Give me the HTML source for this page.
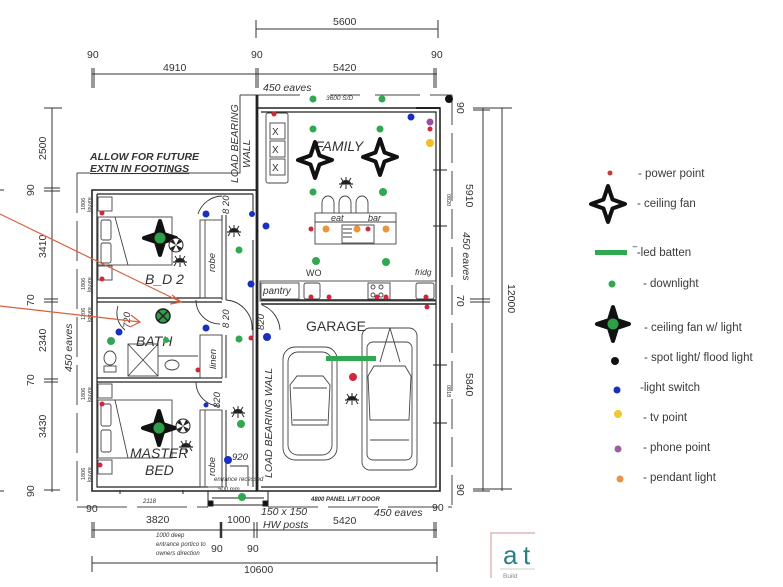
<!DOCTYPE html>
<html><head><meta charset="utf-8"><style>
html,body{margin:0;padding:0;background:#fff;}
svg{display:block;}
text{font-family:"Liberation Sans",sans-serif;fill:#333;}
.it{font-style:italic;}
.lg{font-size:11.5px;fill:#3a3a3a;}
</style></head><body>
<svg width="783" height="587" viewBox="0 0 783 587" xmlns="http://www.w3.org/2000/svg">
<defs>
<g id="star"><polygon points="0,-18 4.5,-4.5 17,0 4.5,4.5 0,18 -4.5,4.5 -17,0 -4.5,-4.5" fill="#fff" stroke="#111" stroke-width="4" stroke-linejoin="round"/></g>
<g id="starg"><polygon points="0,-17 4,-4 16,0 4,4 0,17 -4,4 -16,0 -4,-4" fill="#111" stroke="#111" stroke-width="4" stroke-linejoin="round"/><circle r="5.5" fill="#2e9e48"/></g>
<g id="spot"><path d="M-5,0 A5,4 0 0 1 5,0 Z" fill="#222"/><line x1="-7" y1="0" x2="7" y2="0" stroke="#222" stroke-width="1.2"/><line x1="0" y1="-7" x2="0" y2="-4" stroke="#222"/><line x1="-5" y1="-6" x2="-3" y2="-3" stroke="#222"/><line x1="5" y1="-6" x2="3" y2="-3" stroke="#222"/><line x1="0" y1="1" x2="0" y2="5" stroke="#222"/><line x1="-4" y1="1" x2="-6" y2="4" stroke="#222"/><line x1="4" y1="1" x2="6" y2="4" stroke="#222"/></g>
<g id="fan"><circle r="7" fill="#fff" stroke="#222" stroke-width="1"/><path d="M0,0 L-6,-3 L-3,-6 Z M0,0 L6,3 L3,6 Z M0,0 L3,-6 L6,-3 Z M0,0 L-3,6 L-6,3 Z" fill="#222"/></g>
</defs>

<!-- ===== top dimensions ===== -->
<g stroke="#333" stroke-width="1" fill="none">
<line x1="256" y1="29" x2="438" y2="29"/>
<line x1="256" y1="20" x2="256" y2="38"/><line x1="438" y1="20" x2="438" y2="38"/>
<line x1="92" y1="74" x2="437" y2="74"/>
<line x1="92" y1="68" x2="92" y2="88"/><line x1="94" y1="68" x2="94" y2="88"/>
<line x1="256" y1="68" x2="256" y2="88"/><line x1="258" y1="68" x2="258" y2="88"/>
<line x1="434" y1="68" x2="434" y2="88"/><line x1="436" y1="68" x2="436" y2="88"/>
</g>
<text x="333" y="25" font-size="10.5">5600</text>
<text x="87" y="58" font-size="10.5">90</text>
<text x="251" y="58" font-size="10.5">90</text>
<text x="431" y="58" font-size="10.5">90</text>
<text x="163" y="71" font-size="10.5">4910</text>
<text x="333" y="71" font-size="10.5">5420</text>
<text x="263" y="91" font-size="10.5" class="it">450 eaves</text>

<!-- eaves lines -->
<g stroke="#444" stroke-width="1" fill="none">
<path d="M240,95 L258,95"/>
<path d="M258,95 L300,95 M330,95 L360,95 M375,95 L420,95 M430,95 L452,95" />
<path d="M240,95 L240,173 L205,173"/>
<path d="M77,173 L90,173"/>
<path d="M77,173 L77,505" stroke-dasharray="40 8"/>
<path d="M452,95 L452,507" stroke-dasharray="30 8"/>
<path d="M77,507 L208,507" stroke-dasharray="50 10"/>
<path d="M268,507 L452,507" stroke-dasharray="50 10"/>
</g>
<text x="326" y="100" font-size="6.5" class="it">3600 S/D</text>

<text x="90" y="160" font-size="10.5" font-weight="bold" class="it">ALLOW FOR FUTURE</text>
<text x="90" y="172" font-size="10.5" font-weight="bold" class="it" text-decoration="underline">EXTN IN FOOTINGS</text>
<line x1="168" y1="173" x2="205" y2="173" stroke="#444"/>
<text transform="translate(238,183) rotate(-90)" font-size="10.5" class="it">LOAD BEARING</text>
<text transform="translate(250,168) rotate(-90)" font-size="10.5" class="it">WALL</text>

<!-- ===== left dimensions ===== -->
<g stroke="#333" stroke-width="1" fill="none">
<line x1="52" y1="108" x2="52" y2="492"/>
<line x1="44" y1="108" x2="62" y2="108"/>
<line x1="44" y1="188" x2="60" y2="188"/><line x1="44" y1="191" x2="60" y2="191"/>
<line x1="44" y1="299" x2="58" y2="299"/><line x1="44" y1="302" x2="58" y2="302"/>
<line x1="44" y1="379" x2="58" y2="379"/><line x1="44" y1="382" x2="58" y2="382"/>
<line x1="44" y1="490" x2="60" y2="490"/>
<line x1="0" y1="190" x2="4" y2="190"/>
<line x1="0" y1="491" x2="4" y2="491"/>
</g>
<text transform="translate(46,160) rotate(-90)" font-size="10.5">2500</text>
<text transform="translate(34,196) rotate(-90)" font-size="10.5">90</text>
<text transform="translate(46,258) rotate(-90)" font-size="10.5">3410</text>
<text transform="translate(34,306) rotate(-90)" font-size="10.5">70</text>
<text transform="translate(46,352) rotate(-90)" font-size="10.5">2340</text>
<text transform="translate(34,386) rotate(-90)" font-size="10.5">70</text>
<text transform="translate(46,438) rotate(-90)" font-size="10.5">3430</text>
<text transform="translate(34,497) rotate(-90)" font-size="10.5">90</text>
<text transform="translate(72,372) rotate(-90)" font-size="10.5" class="it">450 eaves</text>
<g font-size="5.5">
<text transform="translate(85,210) rotate(-90)">1806</text>
<text transform="translate(91,212) rotate(-90)">louvre</text>
<text transform="translate(85,290) rotate(-90)">1806</text>
<text transform="translate(91,292) rotate(-90)">louvre</text>
<text transform="translate(85,320) rotate(-90)">1206</text>
<text transform="translate(91,322) rotate(-90)">louvre</text>
<text transform="translate(85,400) rotate(-90)">1806</text>
<text transform="translate(91,402) rotate(-90)">louvre</text>
<text transform="translate(85,480) rotate(-90)">1806</text>
<text transform="translate(91,482) rotate(-90)">louvre</text>
</g>

<!-- ===== right dimensions ===== -->
<g stroke="#333" stroke-width="1" fill="none">
<line x1="483" y1="108" x2="483" y2="491"/>
<line x1="502" y1="108" x2="502" y2="491"/>
<line x1="473" y1="108" x2="512" y2="108"/><line x1="473" y1="110" x2="490" y2="110"/>
<line x1="470" y1="299" x2="490" y2="299"/><line x1="470" y1="302" x2="490" y2="302"/>
<line x1="473" y1="489" x2="512" y2="489"/><line x1="473" y1="491" x2="490" y2="491"/>
</g>
<text transform="translate(457,102) rotate(90)" font-size="10.5">90</text>
<text transform="translate(466,184) rotate(90)" font-size="10.5">5910</text>
<text transform="translate(463,232) rotate(90)" font-size="10.5" class="it">450 eaves</text>
<text transform="translate(457,295) rotate(90)" font-size="10.5">70</text>
<text transform="translate(466,373) rotate(90)" font-size="10.5">5840</text>
<text transform="translate(457,484) rotate(90)" font-size="10.5">90</text>
<text transform="translate(508,284) rotate(90)" font-size="10.5">12000</text>
<text transform="translate(447,194) rotate(90)" font-size="5.5">0820</text>
<text transform="translate(447,385) rotate(90)" font-size="5.5">0818</text>

<!-- ===== bottom dimensions ===== -->
<g stroke="#333" stroke-width="1" fill="none">
<line x1="92" y1="530" x2="437" y2="530"/>
<line x1="92" y1="522" x2="92" y2="538"/><line x1="94" y1="522" x2="94" y2="538"/>
<line x1="221" y1="522" x2="221" y2="538" stroke-width="2.5"/>
<line x1="254" y1="522" x2="254" y2="538"/><line x1="257" y1="522" x2="257" y2="538"/>
<line x1="434" y1="522" x2="434" y2="538"/><line x1="436" y1="522" x2="436" y2="538"/>
<line x1="92" y1="563" x2="437" y2="563"/>
<line x1="92" y1="556" x2="92" y2="572"/><line x1="437" y1="556" x2="437" y2="572"/>
</g>
<text x="86" y="512" font-size="10.5">90</text>
<text x="146" y="523" font-size="10.5">3820</text>
<text x="227" y="523" font-size="10.5">1000</text>
<text x="261" y="515" font-size="10.5" class="it">150 x 150</text>
<text x="263" y="528" font-size="10.5" class="it">HW posts</text>
<text x="333" y="524" font-size="10.5">5420</text>
<text x="374" y="516" font-size="10.5" class="it">450 eaves</text>
<text x="432" y="511" font-size="10.5">90</text>
<text x="211" y="552" font-size="10.5">90</text>
<text x="247" y="552" font-size="10.5">90</text>
<text x="244" y="573" font-size="10.5">10600</text>
<text x="143" y="503" font-size="6" class="it">2118</text>
<g font-size="6" class="it"><text x="156" y="537">1000 deep</text><text x="156" y="546">entrance portico to</text><text x="156" y="555">owners direction</text></g>

<!-- ===== walls ===== -->
<g stroke="#222" fill="none">
<path d="M257,108 L440,108 L440,491 L257,491 Z" stroke-width="1.6"/>
<path d="M261,112 L436,112 L436,487 L261,487" stroke-width="1.2"/>
<line x1="257" y1="95" x2="257" y2="491" stroke-width="2.8"/>
<path d="M257,190 L92,190 L92,491 L257,491" stroke-width="1.6"/>
<path d="M97,194 L253,194 M97,194 L97,487 L208,487" stroke-width="1.2"/>
<path d="M97,298 L222,298 M97,302 L222,302" stroke-width="1.2"/>
<path d="M97,378 L222,378 M97,382 L222,382" stroke-width="1.2"/>
<path d="M222,215 L222,300 M226,215 L226,300 M222,335 L222,378 M226,335 L226,378 M222,410 L222,487 M226,410 L226,487" stroke-width="1"/>
<path d="M261,300 L436,300 M261,304 L436,304" stroke-width="1.4"/>
<path d="M253,194 L253,215 M253,240 L253,487" stroke-width="1"/>
<path d="M208,491 L208,505 L268,505 L268,491" stroke-width="1"/>
<path d="M212,498 L264,498" stroke-width="1"/>
<rect x="208" y="501" width="5" height="5" fill="#111"/>
<rect x="263" y="501" width="5" height="5" fill="#111"/>
<path d="M433,170 L447,170 M433,226 L447,226 M433,365 L447,365 M433,423 L447,423" stroke-width="1"/>
<path d="M120,490 L120,494 M183,490 L183,494" stroke-width="1"/>
<path d="M416,108 L440,108" stroke-width="2"/>
</g>

<!-- door arcs -->
<g stroke="#333" fill="none" stroke-width="0.9">
<path d="M222,196 A26,26 0 0 0 198,214"/>
<path d="M196,300 A24,24 0 0 0 220,324"/>
<path d="M118,306 A22,22 0 0 0 125,330"/>
<path d="M196,382 A24,24 0 0 0 220,406"/>
<path d="M226,300 A28,28 0 0 1 252,330"/>
<path d="M262,305 A28,28 0 0 1 280,330"/>
<path d="M230,466 L248,466 L248,486"/>
</g>
<g font-size="9.5" class="it">
<text transform="translate(229,214) rotate(-90)">8 20</text>
<text transform="translate(229,328) rotate(-90)">8 20</text>
<text transform="translate(130,328) rotate(-90)">720</text>
<text transform="translate(220,408) rotate(-90)">820</text>
<text transform="translate(264,330) rotate(-90)">820</text>
<text x="232" y="460">920</text>
</g>
<g font-size="6" class="it"><text x="214" y="481">entrance recessed</text><text x="218" y="491">500 mm</text></g>

<!-- ===== Bed 2 furniture ===== -->
<g stroke="#444" fill="none" stroke-width="0.9">
<rect x="98" y="197" width="14" height="14"/>
<rect x="98" y="266" width="14" height="14"/>
<rect x="98" y="217" width="74" height="48"/>
<rect x="101" y="220" width="10" height="20" rx="2"/>
<rect x="101" y="243" width="10" height="20" rx="2"/>
<path d="M115,217 L128,265" />
<rect x="200" y="220" width="22" height="78"/>
<line x1="205" y1="220" x2="205" y2="298"/>
<rect x="128" y="344" width="30" height="32"/>
<path d="M128,344 L158,376 M158,344 L128,376"/>
<ellipse cx="110" cy="358" rx="6" ry="7"/>
<rect x="104" y="366" width="12" height="6"/>
<ellipse cx="172" cy="365" rx="7" ry="5"/>
<path d="M158,356 L198,356"/>
<rect x="200" y="335" width="22" height="43"/>
<rect x="98" y="384" width="14" height="14"/>
<rect x="98" y="460" width="14" height="14"/>
<rect x="98" y="400" width="74" height="58"/>
<rect x="101" y="404" width="10" height="22" rx="2"/>
<rect x="101" y="430" width="10" height="22" rx="2"/>
<path d="M115,400 L128,458"/>
<rect x="200" y="410" width="22" height="77"/>
<line x1="205" y1="410" x2="205" y2="487"/>
</g>
<text transform="translate(215,272) rotate(-90)" font-size="9.5" class="it">robe</text>
<text transform="translate(216,369) rotate(-90)" font-size="9.5" class="it">linen</text>
<text transform="translate(215,476) rotate(-90)" font-size="9.5" class="it">robe</text>
<text x="145" y="284" font-size="14" class="it">B_D 2</text>
<text x="136" y="346" font-size="14" class="it">BATH</text>
<text x="130" y="458" font-size="14" class="it">MASTER</text>
<text x="145" y="475" font-size="14" class="it">BED</text>

<!-- ===== Family furniture ===== -->
<g stroke="#444" fill="none" stroke-width="0.9">
<rect x="266" y="113" width="22" height="70" rx="2"/>
<rect x="270" y="123" width="15" height="16"/>
<rect x="270" y="141" width="15" height="16"/>
<rect x="270" y="159" width="15" height="16"/>
<path d="M322,213 L322,203 A6,7 0 0 1 334,203 L334,213 M339,213 L339,203 A6,7 0 0 1 351,203 L351,213 M356,213 L356,203 A6,7 0 0 1 368,203 L368,213"/>
<rect x="315" y="213" width="81" height="31"/>
<line x1="315" y1="222" x2="396" y2="222"/>
<rect x="342" y="225" width="32" height="18"/>
<path d="M343,229 L352,229 M343,233 L352,233 M343,237 L352,237"/>
<rect x="260" y="281" width="176" height="20"/>
<rect x="261" y="283" width="38" height="16"/>
<rect x="304" y="283" width="16" height="16" rx="2"/>
<rect x="368" y="283" width="22" height="16"/>
<circle cx="373" cy="287" r="2"/><circle cx="381" cy="287" r="2"/><circle cx="373" cy="295" r="2"/><circle cx="381" cy="295" r="2"/>
<rect x="416" y="283" width="18" height="16" rx="2"/>
</g>
<g font-size="10" font-family="Liberation Serif" fill="#333"><text x="272" y="135">X</text><text x="272" y="153">X</text><text x="272" y="171">X</text></g>
<text x="315" y="151" font-size="14" class="it">FAMILY</text>
<text x="331" y="221" font-size="9" class="it">eat</text>
<text x="368" y="221" font-size="9" class="it">bar</text>
<text x="306" y="276" font-size="9">WO</text>
<text x="415" y="275" font-size="8.5" class="it">fridg</text>
<text x="263" y="294" font-size="10" class="it">pantry</text>

<!-- ===== Garage ===== -->
<text x="306" y="331" font-size="14">GARAGE</text>
<g stroke="#444" fill="none" stroke-width="0.9">
<rect x="283" y="347" width="54" height="113" rx="12"/>
<rect x="288" y="352" width="44" height="103" rx="10"/>
<path d="M290,385 L297,376 L323,376 L330,385 L328,425 L292,425 Z"/>
<path d="M293,388 L327,388 M293,420 L327,420"/>
<rect x="362" y="328" width="55" height="142" rx="8"/>
<rect x="367" y="342" width="45" height="118" rx="6"/>
<path d="M368,376 L374,366 L405,366 L411,376 L409,420 L370,420 Z"/>
<path d="M390,328 L380,362 M390,328 L400,362"/>
<path d="M370,440 L409,440"/>
</g>
<rect x="326" y="356" width="50" height="5" fill="#2fa84f"/>
<text transform="translate(272,478) rotate(-90)" font-size="10.5" class="it">LOAD BEARING WALL</text>
<text x="311" y="501" font-size="6" font-weight="bold" class="it">4800 PANEL LIFT DOOR</text>

<!-- ===== red arrows ===== -->
<g stroke="#d9603c" stroke-width="1.2" fill="none">
<line x1="0" y1="214" x2="181" y2="302"/>
<path d="M172,295 L181,302 L170,304"/>
<line x1="0" y1="306" x2="140" y2="322"/>
<path d="M131,315 L140,322 L130,327"/>
</g>

<!-- ===== fixtures ===== -->
<use href="#star" x="315" y="160"/>
<use href="#star" x="380" y="157"/>
<use href="#starg" x="160" y="238"/>
<use href="#starg" x="159" y="428"/>
<use href="#fan" x="176" y="245"/>
<use href="#fan" x="183" y="426"/>
<circle cx="163" cy="316" r="7" fill="#2e9e48" stroke="#222" stroke-width="1.5"/>
<path d="M158,311 L168,321 M168,311 L158,321" stroke="#222" stroke-width="1.5"/>
<use href="#spot" x="346" y="184"/>
<use href="#spot" x="234" y="232"/>
<use href="#spot" x="180" y="262"/>
<use href="#spot" x="238" y="413"/>
<use href="#spot" x="186" y="447"/>
<use href="#spot" x="352" y="400"/>
<g fill="#2fa84f">
<circle cx="313" cy="99" r="3.5"/><circle cx="382" cy="99" r="3.5"/>
<circle cx="313" cy="129" r="3.5"/><circle cx="380" cy="129" r="3.5"/>
<circle cx="313" cy="192" r="3.5"/><circle cx="383" cy="192" r="4"/>
<circle cx="316" cy="261" r="4"/><circle cx="386" cy="262" r="4"/>
<circle cx="239" cy="250" r="3.5"/><circle cx="111" cy="341" r="4"/>
<circle cx="239" cy="339" r="3.5"/><circle cx="166" cy="340" r="3"/>
<circle cx="241" cy="424" r="4"/><circle cx="242" cy="497" r="4"/>
</g>
<g fill="#d0283a">
<circle cx="274" cy="114" r="2.5"/>
<circle cx="102" cy="213" r="2.5"/><circle cx="102" cy="279" r="2.5"/>
<circle cx="251" cy="338" r="2.5"/><circle cx="198" cy="370" r="2.5"/>
<circle cx="102" cy="404" r="2.5"/><circle cx="100" cy="465" r="2.5"/>
<circle cx="311" cy="229" r="2.5"/><circle cx="368" cy="229" r="2.5"/>
<circle cx="311" cy="297" r="2.5"/><circle cx="329" cy="297" r="2.5"/>
<circle cx="377" cy="297" r="2.5"/><circle cx="386" cy="297" r="2.5"/>
<circle cx="426" cy="297" r="2.5"/><circle cx="427" cy="307" r="2.5"/>
<circle cx="430" cy="129" r="2.5"/>
<circle cx="353" cy="377" r="4"/>
</g>
<g fill="#e8943a"><circle cx="326" cy="229" r="3.5"/><circle cx="357" cy="229" r="3.5"/><circle cx="386" cy="229" r="3.5"/></g>
<g fill="#1a2fc0">
<circle cx="411" cy="117" r="3.5"/>
<circle cx="206" cy="214" r="3.5"/><circle cx="266" cy="226" r="3.5"/>
<circle cx="251" cy="284" r="3.5"/><circle cx="119" cy="332" r="3.5"/>
<circle cx="206" cy="328" r="3.5"/><circle cx="267" cy="337" r="4"/>
<circle cx="206" cy="405" r="2.5"/><circle cx="228" cy="460" r="4"/>
<circle cx="252" cy="214" r="3"/>
</g>
<circle cx="430" cy="122" r="3.5" fill="#9b4fa0"/>
<circle cx="430" cy="143" r="4" fill="#f0c020"/>
<circle cx="449" cy="99" r="4" fill="#111"/>

<!-- ===== legend ===== -->
<circle cx="610" cy="173" r="2.5" fill="#c83a3a"/>
<text x="638" y="177" class="lg">- power point</text>
<use href="#star" x="608" y="204"/>
<text x="637" y="207" class="lg">- ceiling fan</text>
<rect x="595" y="250" width="32" height="5" fill="#2fa84f"/>
<text x="633" y="256" class="lg">‾-led batten</text>
<circle cx="612" cy="284" r="3.5" fill="#2fa84f"/>
<text x="643" y="287" class="lg">- downlight</text>
<use href="#starg" x="613" y="324"/>
<text x="644" y="331" class="lg">- ceiling fan w/ light</text>
<circle cx="615" cy="361" r="4" fill="#111"/>
<text x="644" y="361" class="lg">- spot light/ flood light</text>
<circle cx="617" cy="390" r="3.5" fill="#1a2fc0"/>
<text x="640" y="391" class="lg">-light switch</text>
<circle cx="618" cy="414" r="4" fill="#f0c830"/>
<text x="643" y="421" class="lg">- tv point</text>
<circle cx="618" cy="449" r="3.5" fill="#9b5fa0"/>
<text x="643" y="451" class="lg">- phone point</text>
<circle cx="620" cy="479" r="3.5" fill="#e8944a"/>
<text x="643" y="481" class="lg">- pendant light</text>

<!-- ===== logo ===== -->
<path d="M491,578 L491,533 L535,533" stroke="#d8a8a8" stroke-width="1.2" fill="none"/>
<text x="503" y="564" font-size="26" style="fill:#2a7f82">a</text>
<text x="523" y="564" font-size="26" style="fill:#2a7f82">t</text>
<line x1="500" y1="569" x2="535" y2="569" stroke="#999" stroke-width="0.6"/>
<text x="503" y="578" font-size="6.5" style="fill:#888">Build</text>
</svg>
</body></html>
